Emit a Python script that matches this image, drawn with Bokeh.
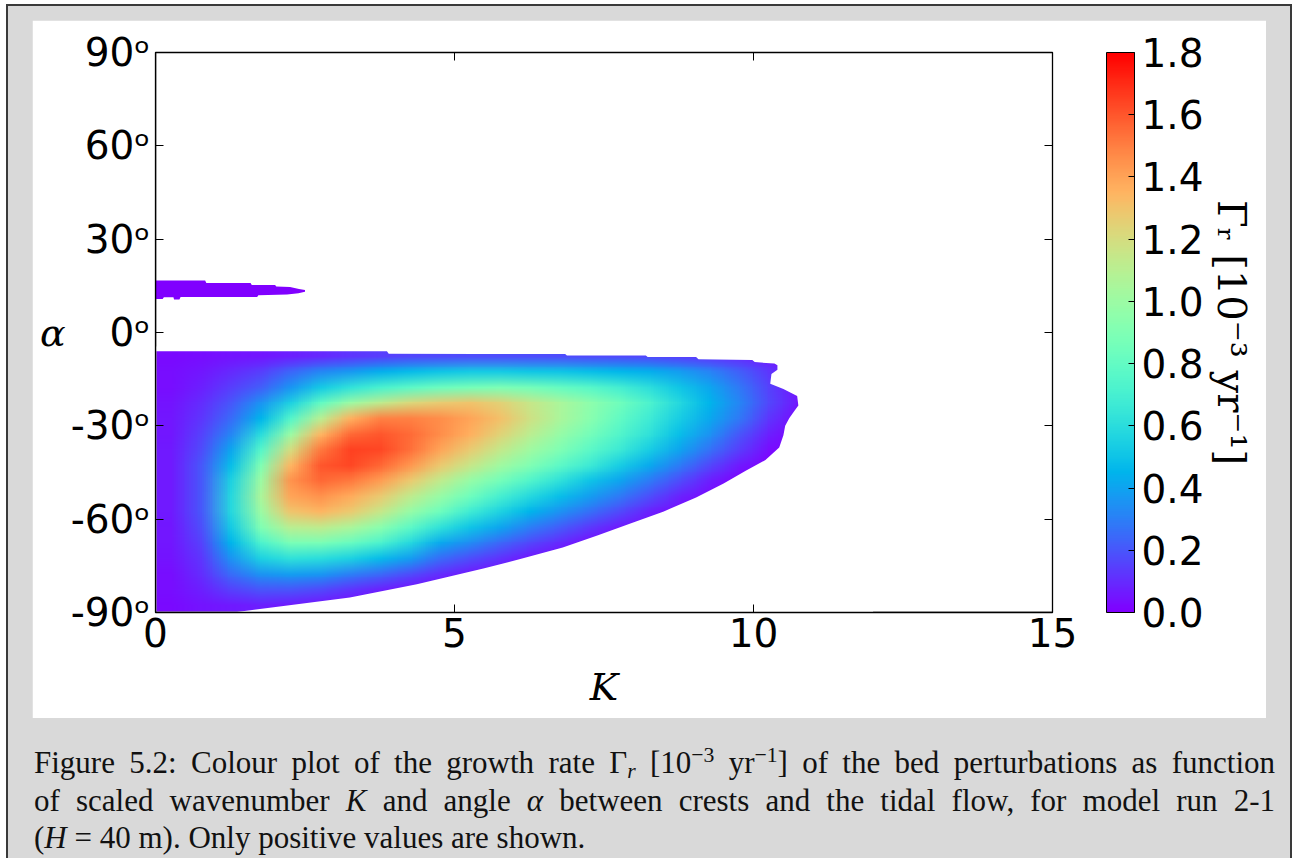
import base64
import struct
import zlib
import numpy as np
from bokeh.plotting import figure
from bokeh.models import (LinearColorMapper, ColorBar, FixedTicker, Range1d,
                          LinearAxis, Div, PrintfTickFormatter, CustomLabelingPolicy, Span)
from bokeh.layouts import column
from bokeh.embed import file_html
from bokeh.resources import INLINE

# ---------------- data ----------------
K_centers = [0.25, 0.75, 1.25, 1.75, 2.25, 2.75, 3.25, 3.75, 4.25, 4.75, 5.25,
             5.75, 6.25, 6.75, 7.25, 7.75, 8.25, 8.75, 9.25, 9.75, 10.25, 10.75]
alpha_centers = [-87.5, -82.5, -77.5, -72.5, -67.5, -62.5, -57.5, -52.5, -47.5,
                 -42.5, -37.5, -32.5, -27.5, -22.5, -17.5, -12.5, -7.5]

# growth rate Gamma_r [1e-3 / yr], one row per alpha (bottom -> top)
g_m87 = [0.02, 0.04, 0.06, 0.07, 0.06, 0.04, 0.02, 0, 0, 0, 0,   0, 0, 0, 0, 0, 0, 0, 0, 0, 0, 0]
g_m82 = [0.03, 0.07, 0.15, 0.20, 0.20, 0.17, 0.12, 0.08, 0.04, 0.02, 0,   0, 0, 0, 0, 0, 0, 0, 0, 0, 0, 0]
g_m77 = [0.03, 0.10, 0.25, 0.35, 0.38, 0.36, 0.30, 0.24, 0.17, 0.10, 0.05,   0.02, 0, 0, 0, 0, 0, 0, 0, 0, 0, 0]
g_m72 = [0.04, 0.12, 0.35, 0.55, 0.62, 0.60, 0.55, 0.47, 0.38, 0.25, 0.18,   0.11, 0.05, 0.02, 0, 0, 0, 0, 0, 0, 0, 0]
g_m67 = [0.05, 0.15, 0.45, 0.72, 0.88, 0.88, 0.82, 0.72, 0.58, 0.42, 0.33,   0.24, 0.16, 0.09, 0.03, 0.01, 0, 0, 0, 0, 0, 0]
g_m62 = [0.05, 0.18, 0.52, 0.90, 1.10, 1.12, 1.05, 0.93, 0.78, 0.62, 0.50,   0.40, 0.30, 0.21, 0.13, 0.06, 0.02, 0, 0, 0, 0, 0]
g_m57 = [0.06, 0.20, 0.58, 1.00, 1.30, 1.35, 1.28, 1.15, 0.98, 0.84, 0.68,   0.56, 0.45, 0.35, 0.26, 0.17, 0.08, 0.02, 0, 0, 0, 0]
g_m52 = [0.06, 0.20, 0.58, 1.05, 1.40, 1.45, 1.38, 1.27, 1.12, 0.98, 0.84,   0.70, 0.58, 0.48, 0.38, 0.28, 0.18, 0.08, 0.02, 0, 0, 0]
g_m47 = [0.06, 0.20, 0.55, 1.00, 1.45, 1.56, 1.52, 1.42, 1.28, 1.13, 0.98,   0.86, 0.74, 0.62, 0.50, 0.40, 0.29, 0.18, 0.07, 0.01, 0, 0]
g_m42 = [0.06, 0.20, 0.48, 0.90, 1.35, 1.60, 1.64, 1.56, 1.43, 1.28, 1.15,   1.02, 0.90, 0.78, 0.66, 0.54, 0.42, 0.29, 0.16, 0.06, 0, 0]
g_m37 = [0.06, 0.17, 0.40, 0.75, 1.20, 1.52, 1.65, 1.64, 1.54, 1.40, 1.27,   1.14, 1.02, 0.90, 0.78, 0.66, 0.54, 0.40, 0.27, 0.14, 0.03, 0]
g_m32 = [0.05, 0.15, 0.32, 0.60, 1.00, 1.35, 1.56, 1.60, 1.55, 1.46, 1.36,   1.24, 1.11, 0.98, 0.86, 0.74, 0.62, 0.48, 0.35, 0.20, 0.07, 0]
g_m27 = [0.05, 0.12, 0.25, 0.45, 0.75, 1.10, 1.36, 1.50, 1.50, 1.46, 1.40,   1.31, 1.18, 1.05, 0.93, 0.80, 0.67, 0.54, 0.42, 0.28, 0.12, 0.02]
g_m22 = [0.04, 0.10, 0.20, 0.35, 0.55, 0.80, 1.00, 1.12, 1.22, 1.27, 1.30,   1.25, 1.15, 1.05, 0.95, 0.85, 0.72, 0.58, 0.45, 0.32, 0.16, 0.05]
g_m17 = [0.03, 0.07, 0.14, 0.22, 0.36, 0.52, 0.63, 0.71, 0.78, 0.83, 0.87,   0.89, 0.86, 0.81, 0.76, 0.69, 0.61, 0.51, 0.41, 0.28, 0.15, 0.04]
g_m12 = [0.03, 0.05, 0.09, 0.14, 0.23, 0.32, 0.37, 0.43, 0.47, 0.50, 0.52,   0.52, 0.51, 0.50, 0.48, 0.46, 0.43, 0.38, 0.31, 0.22, 0.12, 0.03]
g_m07 = [0.02, 0.03, 0.04, 0.05, 0.07, 0.09, 0.12, 0.14, 0.16, 0.17, 0.18,   0.18, 0.18, 0.18, 0.17, 0.17, 0.16, 0.14, 0.12, 0.10, 0.06, 0.02]

growth_rows = [g_m87, g_m82, g_m77, g_m72, g_m67, g_m62, g_m57, g_m52, g_m47,
               g_m42, g_m37, g_m32, g_m27, g_m22, g_m17, g_m12, g_m07]

# outline of the main positive region (K, alpha)
edge_K = [0.0, 3.87, 3.9, 5.4, 6.85, 6.88, 8.2, 8.23, 9.04, 9.08, 9.98, 10.02, 10.35,
          10.4, 10.4, 10.3, 10.28, 10.5, 10.73, 10.75, 10.68, 10.6, 10.53, 10.5, 10.43,
          10.2, 9.87, 9.5, 9.04, 8.5, 7.93, 7.4, 6.81, 6.1, 5.5, 4.37, 3.25, 2.14, 1.33, 0.0]
edge_A = [-6.0, -6.0, -6.8, -6.9, -6.9, -7.4, -7.4, -7.9, -7.9, -8.6, -8.8, -9.5, -10.0,
          -10.5, -12.0, -13.3, -16.5, -18.2, -20.4, -23.5, -25.3, -27.5, -30.0, -33.0, -37.0,
          -41.0, -44.4, -48.5, -53.0, -57.5, -61.5, -65.2, -69.1, -72.8, -75.8, -80.9, -85.2,
          -87.9, -89.9, -90.0]

# small positive band near alpha ~ 14 deg
band_K = [0.0, 0.83, 0.85, 1.59, 1.61, 2.0, 2.02, 2.25, 2.4, 2.5, 2.5, 2.39, 2.2, 1.72,
          1.7, 0.42, 0.40, 0.31, 0.3, 0.14, 0.12, 0.0]
band_A = [16.7, 16.7, 15.9, 15.9, 15.3, 15.3, 14.8, 14.6, 14.0, 13.7, 13.1, 12.6, 12.2,
          12.0, 11.4, 11.4, 10.6, 10.6, 11.3, 11.3, 10.8, 10.8]

x_ticks = [0, 5, 10, 15]
y_ticks = [-90, -60, -30, 0, 30, 60, 90]
y_tick_labels = ["-90ᵒ", "-60ᵒ", "-30ᵒ", "0ᵒ", "30ᵒ", "60ᵒ", "90ᵒ"]
cb_ticks = [0.0, 0.2, 0.4, 0.6, 0.8, 1.0, 1.2, 1.4, 1.6, 1.8]
cb_low, cb_high = 0.0, 1.8

# ---------------- colour map (matplotlib "rainbow") ----------------
rainbow_rgb = []
for i in range(256):
    t = i / 255.0
    r = min(1.0, abs(2 * t - 0.5))
    g = np.sin(np.pi * t)
    b = np.cos(np.pi * t / 2)
    rainbow_rgb.append((int(round(r * 255)), int(round(g * 255)), int(round(b * 255))))
rainbow = ["#%02x%02x%02x" % c for c in rainbow_rgb]
mapper = LinearColorMapper(palette=rainbow, low=cb_low, high=cb_high)


def colour_of(v):
    i = int(round((v - cb_low) / (cb_high - cb_low) * 255))
    return rainbow_rgb[max(0, min(255, i))]


def png_url(rows_top_down):
    h = len(rows_top_down)
    w = len(rows_top_down[0])
    raw = b"".join(b"\x00" + bytes(c for v in row for c in colour_of(v)) for row in rows_top_down)

    def chunk(tag, data):
        return (struct.pack(">I", len(data)) + tag + data +
                struct.pack(">I", zlib.crc32(tag + data) & 0xffffffff))
    png = (b"\x89PNG\r\n\x1a\n" + chunk(b"IHDR", struct.pack(">IIBBBBB", w, h, 8, 2, 0, 0, 0)) +
           chunk(b"IDAT", zlib.compress(raw, 9)) + chunk(b"IEND", b""))
    return "data:image/png;base64," + base64.b64encode(png).decode()


no_labels = CustomLabelingPolicy(code="""
try {
  if (typeof indices.clear === "function") { indices.clear() }
  else { for (const i of Array.from(indices)) { indices.unset(i) } }
} catch (e) {}
return indices
""")

# ---------------- figure ----------------
p = figure(width=1234, height=698, x_range=Range1d(0, 15), y_range=Range1d(-90, 90),
           output_backend="svg", toolbar_location=None,
           min_border_left=123, min_border_right=214, min_border_top=32, min_border_bottom=106,
           background_fill_color="white", border_fill_color="white")
p.grid.visible = False
p.outline_line_color = "black"
p.outline_line_width = 1.3

dK = K_centers[1] - K_centers[0]
dA = alpha_centers[1] - alpha_centers[0]
img_left = K_centers[0] - dK / 2
img_top = alpha_centers[-1] + dA / 2
r_img = p.image_url(url=[png_url(growth_rows[::-1])], x=img_left, y=img_top,
                    w=len(K_centers) * dK, h=len(alpha_centers) * dA, anchor="top_left")

# white mask outside the positive region
outer_x = [-1, 12, 12, -1]
outer_y = [-95, -95, img_top + 0.5, img_top + 0.5]
r_mask = p.multi_polygons(xs=[[[outer_x, edge_K]]], ys=[[[outer_y, edge_A]]],
                          fill_color="white", line_color=None)
r_band = p.patch(band_K, band_A, fill_color=rainbow[0], line_color=None)
for r in (r_img, r_mask, r_band):
    r.level = "image"

# frame edges drawn above the colour field
p.add_layout(Span(location=0, dimension="height", line_color="black", line_width=1.5))
p.add_layout(Span(location=-90, dimension="width", line_color="black", line_width=1.5))

sans = "DejaVu Sans"
tick_size = "39px"
serif = "DejaVu Serif"

for ax in (p.xaxis[0], p.yaxis[0]):
    ax.major_tick_in = 8
    ax.major_tick_out = 0
    ax.minor_tick_in = 0
    ax.minor_tick_out = 0
    ax.axis_line_color = "black"
    ax.major_tick_line_color = "black"
    ax.major_label_text_font = sans
    ax.major_label_text_font_size = tick_size
    ax.major_label_text_color = "black"
    ax.axis_label_text_font = serif
    ax.axis_label_text_font_style = "italic"
    ax.axis_label_text_font_size = "38px"
    ax.axis_label_text_color = "black"

p.xaxis[0].ticker = FixedTicker(ticks=x_ticks)
p.xaxis[0].major_label_standoff = 5
p.xaxis[0].axis_label = "K"
p.xaxis[0].axis_label_standoff = 15
p.yaxis[0].ticker = FixedTicker(ticks=y_ticks)
p.yaxis[0].major_label_overrides = {t: s for t, s in zip(y_ticks, y_tick_labels)}
p.yaxis[0].major_label_standoff = 5
p.yaxis[0].axis_label = "α"
p.yaxis[0].axis_label_orientation = "horizontal"
p.yaxis[0].axis_label_standoff = 2

top_ax = LinearAxis(ticker=FixedTicker(ticks=x_ticks), major_label_text_font_size="0px",
                    major_label_policy=no_labels,
                    major_tick_in=8, major_tick_out=0, minor_tick_in=0, minor_tick_out=0,
                    major_label_standoff=0, axis_line_color="black")
right_ax = LinearAxis(ticker=FixedTicker(ticks=y_ticks), major_label_text_font_size="0px",
                      major_label_policy=no_labels,
                      major_tick_in=8, major_tick_out=0, minor_tick_in=0, minor_tick_out=0,
                      major_label_standoff=0, axis_line_color="black")
# invisible spacer between the frame and the colour bar
spacer_ax = LinearAxis(ticker=FixedTicker(ticks=[0]), axis_line_color=None,
                       major_tick_line_color=None, minor_tick_line_color=None,
                       major_tick_in=0, major_tick_out=54, minor_tick_in=0, minor_tick_out=0,
                       major_label_text_font_size="0px", major_label_policy=no_labels,
                       major_label_standoff=0)
p.add_layout(top_ax, "above")
p.add_layout(right_ax, "right")
p.add_layout(spacer_ax, "right")

cb = ColorBar(color_mapper=mapper, ticker=FixedTicker(ticks=cb_ticks),
              formatter=PrintfTickFormatter(format="%.1f"),
              width=28, height=560, margin=0, padding=0,
              major_label_text_font=sans, major_label_text_font_size=tick_size,
              major_label_text_color="black",
              major_tick_in=6, major_tick_out=0, major_tick_line_color="black",
              minor_tick_line_color=None, bar_line_color="black",
              border_line_color=None, background_fill_color=None, label_standoff=7)
p.add_layout(cb, "right")

label_ax = LinearAxis(ticker=FixedTicker(ticks=[]), axis_line_color=None,
                      major_tick_line_color=None, minor_tick_line_color=None,
                      major_tick_in=0, major_tick_out=0,
                      axis_label="Γᵣ [10⁻³ yr⁻¹]", axis_label_text_font=serif,
                      axis_label_text_font_style="normal", axis_label_text_font_size="40px",
                      axis_label_text_color="black", axis_label_standoff=2)
p.add_layout(label_ax, "right")

p.margin = (14, 24, 0, 24)

sup = "font-size:70%; line-height:0; position:relative; top:-0.5em;"
sub = "font-size:70%; line-height:0; position:relative; top:0.25em;"
cap_style = "font-family:'Liberation Serif'; font-size:31px; line-height:37.5px; color:#111;"
caption_html = (
    f'<div style="{cap_style} width:1241px;">'
    f'<div style="text-align:justify; text-align-last:justify; white-space:nowrap; height:37.5px;">'
    f'Figure 5.2: Colour plot of the growth rate '
    f'Γ<span style="{sub}"><i>r</i></span> [10<span style="{sup}">−3</span> yr<span style="{sup}">−1</span>] '
    f'of the bed perturbations as function</div>'
    f'<div style="text-align:justify; text-align-last:justify; height:37.5px;">of scaled wavenumber <i>K</i> and angle <i>α</i> '
    f'between crests and the tidal flow, for model run 2-1</div>'
    f'<div style="height:37.5px;">(<i>H</i> = 40 m). Only positive values are shown.</div>'
    f'</div>'
)
cap = Div(text=caption_html, width=1241, height=116, margin=(26, 0, 0, 26))

root = column(p, cap, margin=(4, 0, 0, 6),
              styles={"background-color": "#d9d9d9", "border-left": "2px solid #3a3a3a",
                      "border-top": "2px solid #3a3a3a", "border-right": "2px solid #3a3a3a"})

open("out.html", "w").write(file_html(root, INLINE))
